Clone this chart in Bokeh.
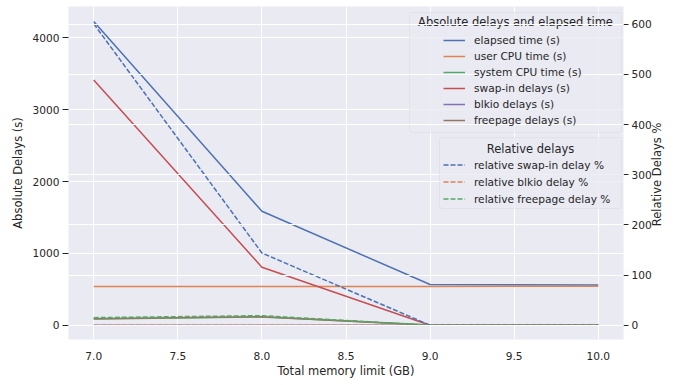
import math
from bokeh.plotting import figure
from bokeh.models import (Range1d, LinearAxis, FixedTicker, PrintfTickFormatter, Grid,
                          Legend, LegendItem, Label, BoxAnnotation)
from bokeh.embed import file_html
from bokeh.resources import INLINE

# ---- data ----
memory_gb = [7.0, 8.0, 9.0, 10.0]
elapsed_time = [4228, 1586, 566, 560]
user_cpu_time = [538, 538, 540, 542]
system_cpu_time = [88, 114, 2, 2]
swap_in_delays = [3413, 807, 0, 0]
blkio_delays = [0, 0, 0, 0]
freepage_delays = [89, 117, 0, 0]

rel_swap_in = [601, 144, 0, 0]
rel_blkio = [0, 0, 0, 0]
rel_freepage = [15, 19, 0, 0]

x_ticks = [7.0, 7.5, 8.0, 8.5, 9.0, 9.5, 10.0]
abs_ticks = [0, 1000, 2000, 3000, 4000]
rel_ticks = [0, 100, 200, 300, 400, 500, 600]

abs_labels = ["elapsed time (s)", "user CPU time (s)", "system CPU time (s)",
              "swap-in delays (s)", "blkio delays (s)", "freepage delays (s)"]
rel_labels = ["relative swap-in delay %", "relative blkio delay %", "relative freepage delay %"]

BLUE, ORANGE, GREEN, RED, PURPLE, BROWN = "#4C72B0", "#DD8452", "#55A868", "#C44E52", "#8172B3", "#937860"
FONT = "DejaVu Sans"
TEXT = "#262626"
BG = "#EAEAF2"

p = figure(width=673, height=385, output_backend="svg", toolbar_location=None,
           x_range=Range1d(6.85, 10.15), y_range=Range1d(-199, 4436),
           min_border_left=68, min_border_right=47, min_border_top=6, min_border_bottom=46,
           background_fill_color=BG, border_fill_color="white", outline_line_color=None)
p.extra_y_ranges = {"rel": Range1d(-28.5, 635.5)}

# grids
p.xgrid.ticker = FixedTicker(ticks=x_ticks)
p.ygrid.ticker = FixedTicker(ticks=abs_ticks)
for g in (p.xgrid, p.ygrid):
    g.grid_line_color = "white"
    g.grid_line_width = 1

# axes
xa = p.xaxis[0]
xa.ticker = FixedTicker(ticks=x_ticks)
xa.formatter = PrintfTickFormatter(format="%.1f")
xa.axis_label = "Total memory limit (GB)"
xa.major_tick_out = 0
xa.major_tick_in = 0
xa.major_label_standoff = 12
xa.axis_label_standoff = 1

ya = p.yaxis[0]
ya.ticker = FixedTicker(ticks=abs_ticks)
ya.axis_label = "Absolute Delays (s)"
ya.major_tick_out = 6
ya.major_tick_in = 0
ya.major_label_standoff = 3
ya.axis_label_standoff = 5

# right axis; its title reads bottom-to-top like the reference, starting from the
# bottom of the axis and pushed up to the centre with non-breaking spaces
ra = LinearAxis(y_range_name="rel", ticker=FixedTicker(ticks=rel_ticks))
ra.axis_label = "\u00a0" * 31 + "Relative Delays %"
ra.axis_label_orientation = math.pi / 2
ra.axis_label_align = "start"
ra.major_tick_out = 5
ra.major_tick_in = 0
ra.major_label_standoff = 3
ra.axis_label_standoff = 2
p.add_layout(ra, "right")

for ax in (xa, ya, ra):
    ax.axis_line_color = None
    ax.minor_tick_out = 0
    ax.minor_tick_in = 0
    ax.major_tick_line_color = TEXT
    ax.major_tick_line_width = 1
    ax.major_label_text_font = FONT
    ax.major_label_text_font_size = "10.6px"
    ax.major_label_text_color = TEXT
    ax.axis_label_text_font = FONT
    ax.axis_label_text_font_size = "11.5px"
    ax.axis_label_text_font_style = "normal"
    ax.axis_label_text_color = TEXT

# solid lines (left axis)
abs_series = [elapsed_time, user_cpu_time, system_cpu_time, swap_in_delays, blkio_delays, freepage_delays]
abs_colors = [BLUE, ORANGE, GREEN, RED, PURPLE, BROWN]
abs_renderers = []
for ys, c in zip(abs_series, abs_colors):
    abs_renderers.append(p.line(memory_gb, ys, line_color=c, line_width=1.5))

# legend 1 (under the right-axis grid)
p.add_layout(BoxAnnotation(left=341, right=553, bottom=207, top=327,
                           left_units="screen", right_units="screen",
                           top_units="screen", bottom_units="screen",
                           fill_color=BG, fill_alpha=0.8, line_color="#CCCCCC",
                           line_width=1, border_radius=3, level="guide"))
p.add_layout(Label(x=447, y=317.3, x_units="screen", y_units="screen",
                   text="Absolute delays and elapsed time", text_align="center",
                   text_baseline="middle", text_font=FONT, text_font_size="11.5px",
                   text_color=TEXT, level="guide"))
leg1 = Legend(items=[LegendItem(label=l, renderers=[r]) for l, r in zip(abs_labels, abs_renderers)],
              location=(375, 211.3), padding=0, margin=0, spacing=0,
              glyph_width=22, glyph_height=16, label_height=16, label_standoff=9,
              label_text_font=FONT, label_text_font_size="10.6px", label_text_color=TEXT,
              border_line_color=None, background_fill_alpha=0, level="guide")
p.add_layout(leg1)

# right-axis grid drawn above left-axis content
p.add_layout(Grid(dimension=1, ticker=FixedTicker(ticks=rel_ticks), y_range_name="rel",
                  grid_line_color="white", grid_line_width=1, level="annotation"))

# dashed lines (right axis)
rel_series = [rel_swap_in, rel_blkio, rel_freepage]
rel_colors = [BLUE, ORANGE, GREEN]
rel_renderers = []
for ys, c in zip(rel_series, rel_colors):
    rel_renderers.append(p.line(memory_gb, ys, line_color=c, line_width=1.5, line_dash="5 2",
                                y_range_name="rel", level="annotation"))

# legend 2
p.add_layout(BoxAnnotation(left=371, right=553, bottom=131, top=202,
                           left_units="screen", right_units="screen",
                           top_units="screen", bottom_units="screen",
                           fill_color=BG, fill_alpha=0.8, line_color="#CCCCCC",
                           line_width=1, border_radius=3, level="overlay"))
p.add_layout(Label(x=462, y=190.7, x_units="screen", y_units="screen",
                   text="Relative delays", text_align="center",
                   text_baseline="middle", text_font=FONT, text_font_size="11.5px",
                   text_color=TEXT, level="overlay"))
leg2 = Legend(items=[LegendItem(label=l, renderers=[r]) for l, r in zip(rel_labels, rel_renderers)],
              location=(375, 131.8), padding=0, margin=0, spacing=0,
              glyph_width=22, glyph_height=17, label_height=17, label_standoff=9,
              label_text_font=FONT, label_text_font_size="10.6px", label_text_color=TEXT,
              border_line_color=None, background_fill_alpha=0, level="overlay")
p.add_layout(leg2)

open("out.html", "w").write(file_html(p, INLINE))
